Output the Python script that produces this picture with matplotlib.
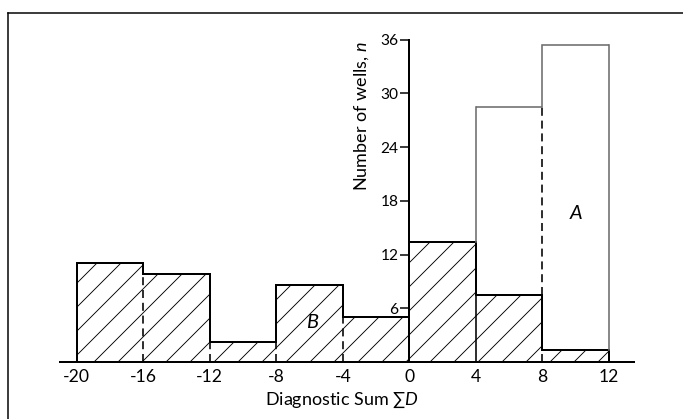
import numpy as np
import matplotlib
matplotlib.use("Agg")
import matplotlib.pyplot as plt
from matplotlib.lines import Line2D

# bins of the diagnostic sum
edges = [-20, -16, -12, -8, -4, 0, 4, 8, 12]
# group B (hatched) counts per bin
b_counts = [11.1, 9.8, 2.2, 8.6, 5.0, 13.4, 7.5, 1.3]
# group A (open) counts, only for the last two bins
a_edges = [4, 8, 12]
a_counts = [28.5, 35.4]
y_ticks = [6, 12, 18, 24, 30, 36]

plt.rcParams['font.family'] = ['Lato', 'DejaVu Sans']
plt.rcParams['mathtext.fontset'] = 'custom'
plt.rcParams['mathtext.it'] = 'Lato:italic'
plt.rcParams['mathtext.rm'] = 'Lato'
plt.rcParams['axes.unicode_minus'] = False
plt.rcParams['hatch.linewidth'] = 0.9

fig = plt.figure(figsize=(683 / 72, 419 / 72), dpi=72)
ax = fig.add_axes([60 / 683, 1 - 362 / 419, 574 / 683, (362 - 30.8) / 419])
ax.set_xlim(-21.0, 13.5)
ax.set_ylim(0, 37)

edges_arr = np.array(edges)
b = np.array(b_counts)

# hatched B bars, outline drawn separately
ax.bar(edges_arr[:-1], b, width=np.diff(edges_arr), align='edge', fill=False,
       hatch='/', edgecolor='black', linewidth=0)
ax.stairs(b, edges_arr, color='black', linewidth=2, baseline=0)

# internal boundaries of B
for i in range(1, len(edges) - 1):
    x = edges[i]
    top = min(b[i - 1], b[i])
    if x == 0:
        continue
    ls = '-' if x == 4 else (0, (5, 3))
    ax.plot([x, x], [0, top], color='black', linewidth=1.6, linestyle=ls)

# open A bars on top of B
a = np.array(a_counts)
grey = '#6e6e6e'
ax.stairs(a, a_edges, color=grey, linewidth=1.6, baseline=None)
b_under = dict(zip(edges[:-1], b))
left_base = max(b_under[a_edges[0] - 4], b_under[a_edges[0]])
ax.plot([a_edges[0]] * 2, [left_base, a[0]], color=grey, linewidth=1.6)
ax.plot([a_edges[-1]] * 2, [b_under[a_edges[-2]], a[-1]], color=grey, linewidth=1.6)
mid = a_edges[1]
ax.plot([mid, mid], [max(b_under[mid - 4], b_under[mid]), min(a)],
        color='black', linewidth=1.6, linestyle=(0, (5, 3)))

ax.text(-5.85, 4.4, 'B', fontsize=20, style='italic', ha='center', va='center')
ax.text(10.0, 16.6, 'A', fontsize=20, style='italic', ha='center', va='center')

# axes styling
for s in ['top', 'right']:
    ax.spines[s].set_visible(False)
ax.spines['left'].set_position(('data', 0))
ax.spines['left'].set_bounds(0, 36)
ax.spines['left'].set_linewidth(2)
ax.spines['bottom'].set_linewidth(2)

ax.set_xticks(edges)
ax.set_xticklabels([str(e) for e in edges])
ax.tick_params(axis='x', length=0, pad=7, labelsize=17.5)
ax.set_yticks(y_ticks)
ax.set_yticklabels([str(t) for t in y_ticks])
ax.tick_params(axis='y', length=9, width=1.5, pad=2, labelsize=15.5)

ax.text(-2.9, 27.5, 'Number of wells, $n$', rotation=90, fontsize=18,
        ha='center', va='center')
fig.text(342 / 683, 1 - 400 / 419, 'Diagnostic Sum \u2211$D$', fontsize=18,
         ha='center', va='center')

# frame lines (left and top only visible)
fig.add_artist(Line2D([8 / 683, 8 / 683], [0, 1 - 13 / 419], color='black',
                      linewidth=1.5, transform=fig.transFigure))
fig.add_artist(Line2D([8 / 683, 1], [1 - 13 / 419, 1 - 13 / 419], color='black',
                      linewidth=1.5, transform=fig.transFigure))

fig.savefig('out.png', dpi=72)
